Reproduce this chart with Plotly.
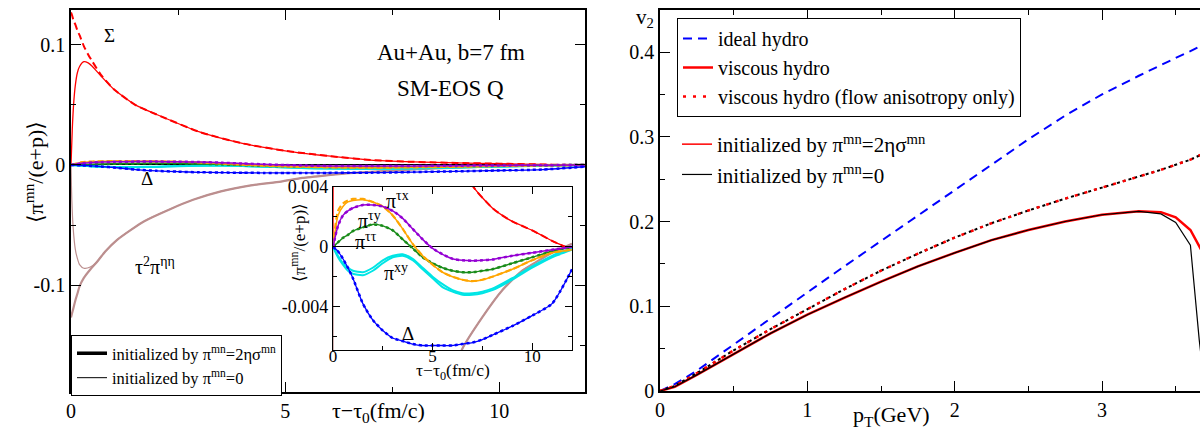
import plotly.graph_objects as go

# ---------------- Left panel data (tau - tau0 in fm/c) ----------------
tau_sig = [0, 0.03, 0.06, 0.1, 0.15, 0.2, 0.3, 0.4, 0.5, 0.7, 1.0, 1.5, 2.0, 3.0, 4.0, 5.0,
           6.0, 7.0, 8.0, 8.5, 9.0, 10.0, 11.0, 11.5, 12.0]
sigma_init0 = [0, 0.03, 0.05, 0.066, 0.077, 0.082, 0.086, 0.085, 0.082, 0.074, 0.063, 0.05, 0.042,
               0.0275, 0.018, 0.0118, 0.0075, 0.0041, 0.0026, 0.0021, 0.0017, 0.0011, 0.0004, 0.0001, -0.0002]
sigma_init2 = [0.127, 0.124, 0.12, 0.117, 0.112, 0.108, 0.099, 0.092, 0.086, 0.075, 0.063, 0.05, 0.042,
               0.0275, 0.018, 0.0118, 0.0075, 0.0041, 0.0026, 0.0021, 0.0017, 0.0011, 0.0004, 0.0001, -0.0002]

tau_b = [0, 0.02, 0.05, 0.1, 0.15, 0.2, 0.3, 0.45, 0.6, 0.8, 1.07, 1.4, 1.7, 2.3, 2.85, 3.5, 4.2,
         4.9, 5.4, 6.0, 6.5, 7.5, 8.5, 9.5, 10.35, 11.0, 12.0]
etaeta_init0 = [0, -0.03, -0.052, -0.07, -0.078, -0.083, -0.086, -0.085, -0.081, -0.072, -0.0625,
                -0.054, -0.047, -0.037, -0.029, -0.022, -0.017, -0.0138, -0.0108, -0.0085, -0.0068,
                -0.0047, -0.0029, -0.0016, -0.0009, -0.0004, 0.0002]
etaeta_init2 = [-0.127, -0.124, -0.12, -0.113, -0.107, -0.101, -0.094, -0.087, -0.081, -0.072, -0.0625,
                -0.054, -0.047, -0.037, -0.029, -0.022, -0.017, -0.0138, -0.0108, -0.0085, -0.0068,
                -0.0047, -0.0029, -0.0016, -0.0009, -0.0004, 0.0002]

tau_s = [0, 0.25, 0.5, 0.75, 1.0, 1.5, 2.0, 2.5, 3.0, 3.5, 4.0, 4.5, 5.0, 5.5, 6.0, 6.5, 7.0,
         7.5, 8.0, 9.0, 10.0, 11.0, 12.0]
pi_tx = [0, 0.0014, 0.0021, 0.0024, 0.0026, 0.0028, 0.0028, 0.0027, 0.0024, 0.0019, 0.0012, 0.0005,
         -0.0001, -0.0005, -0.0008, -0.0009, -0.00093, -0.0009, -0.00085, -0.0006, -0.0004, -0.0002, 0.0]
pi_ty = [0, 0.0021, 0.0027, 0.003, 0.0031, 0.00315, 0.003, 0.0027, 0.0021, 0.0012, 0.0002, -0.0006,
         -0.0012, -0.0017, -0.002, -0.0022, -0.0023, -0.0022, -0.002, -0.0015, -0.0009, -0.0004, -0.0002]
pi_ty_init2 = [0, 0.0024, 0.0029, 0.0031, 0.0032, 0.0032, 0.003, 0.0027, 0.0021, 0.0012, 0.0002, -0.0006,
               -0.0012, -0.0017, -0.002, -0.0022, -0.0023, -0.0022, -0.002, -0.0015, -0.0009, -0.0004, -0.0002]
pi_tt = [0, 0.0003, 0.0006, 0.0008, 0.00105, 0.0013, 0.0015, 0.0014, 0.0011, 0.0005, -0.0001, -0.0007,
         -0.0011, -0.0014, -0.0016, -0.0017, -0.0017, -0.0016, -0.0015, -0.0011, -0.0007, -0.0003, 0.0]
pi_xy = [0, -0.0006, -0.0011, -0.0014, -0.0016, -0.0017, -0.0014, -0.0009, -0.0006, -0.0005, -0.0008,
         -0.0014, -0.002, -0.0025, -0.0029, -0.0031, -0.0031, -0.003, -0.0028, -0.0021, -0.0013, -0.0006, -0.0001]
pi_xy_init2 = [0, -0.0007, -0.0012, -0.0016, -0.0018, -0.0019, -0.0016, -0.0011, -0.0007, -0.0006, -0.0009,
               -0.0015, -0.0021, -0.0027, -0.003, -0.0032, -0.0032, -0.0031, -0.0029, -0.0022, -0.0014, -0.0007, -0.0002]
delta = [0, -0.0003, -0.0008, -0.0014, -0.0021, -0.0038, -0.0049, -0.0056, -0.0061, -0.0063, -0.0065,
         -0.0066, -0.0066, -0.0066, -0.0066, -0.0065, -0.0064, -0.0062, -0.0059, -0.0053, -0.0046, -0.0038, -0.0015]

# ---------------- Right panel data (pT in GeV) ----------------
pt = [0, 0.1, 0.25, 0.5, 0.75, 1.0, 1.25, 1.5, 1.75, 2.0, 2.25, 2.5, 2.75, 3.0, 3.25, 3.4, 3.5, 3.6, 3.7]
v2_ideal = [0, 0.008, 0.024, 0.055, 0.086, 0.117, 0.147, 0.177, 0.207, 0.237, 0.266, 0.297, 0.325,
            0.35, 0.372, 0.385, 0.393, 0.401, 0.41]
v2_aniso = [0, 0.006, 0.021, 0.048, 0.073, 0.097, 0.12, 0.142, 0.162, 0.181, 0.198, 0.213, 0.227,
            0.24, 0.253, 0.261, 0.267, 0.273, 0.281]
v2_visc = [0, 0.005, 0.019, 0.044, 0.068, 0.09, 0.11, 0.129, 0.147, 0.163, 0.178, 0.19, 0.2,
           0.208, 0.212, 0.211, 0.205, 0.19, 0.158]
pt_b = [0, 0.1, 0.25, 0.5, 0.75, 1.0, 1.25, 1.5, 1.75, 2.0, 2.25, 2.5, 2.75, 3.0, 3.25, 3.4, 3.5, 3.6, 3.66, 3.7]
v2_visc0 = [0, 0.005, 0.019, 0.044, 0.068, 0.09, 0.11, 0.129, 0.147, 0.163, 0.178, 0.19, 0.2,
            0.208, 0.212, 0.209, 0.199, 0.172, 0.06, 0.0]

RED, BLUE, BROWN = "#ff0000", "#0000ff", "#bc8f8f"
VIOLET, ORANGE, GREEN, CYAN = "#9400d3", "#ffa500", "#1a8c1a", "#00e5e5"
FONT = "Liberation Serif, DejaVu Serif, serif"

fig = go.Figure()


def both(x, y, color, width, dash="solid"):
    for xa, ya in (("x", "y"), ("x2", "y2")):
        fig.add_trace(go.Scatter(x=x, y=y, mode="lines", xaxis=xa, yaxis=ya, showlegend=False,
                                 line=dict(color=color, width=width, dash=dash, shape="spline",
                                           smoothing=0.6), hoverinfo="skip"))


both(tau_b, etaeta_init2, BROWN, 2.2)
both(tau_b, etaeta_init0, BROWN, 1.2)
both(tau_sig, sigma_init0, RED, 1.3)
both(tau_sig, sigma_init2, RED, 2, "7px,4px")
both(tau_s, pi_xy_init2, CYAN, 2)
both(tau_s, pi_xy, CYAN, 2)
both(tau_s, pi_tt, GREEN, 1.5)
both(tau_s, pi_tt, GREEN, 2.5, "dot")
both(tau_s, pi_ty, ORANGE, 1.5)
both(tau_s, pi_ty_init2, ORANGE, 2.2, "6px,3px")
both(tau_s, pi_tx, VIOLET, 1.5)
both(tau_s, pi_tx, VIOLET, 2.5, "dot")
both(tau_s, delta, BLUE, 1.3)
both(tau_s, delta, BLUE, 2.5, "dot")

# left legend (line styles)
fig.add_trace(go.Scatter(x=[None], y=[None], mode="lines", line=dict(color="black", width=3.5),
                         name="initialized by π<sup>mn</sup>=2ησ<sup>mn</sup>", legend="legend3"))
fig.add_trace(go.Scatter(x=[None], y=[None], mode="lines", line=dict(color="black", width=1),
                         name="initialized by π<sup>mn</sup>=0", legend="legend3"))

# right panel
fig.add_trace(go.Scatter(x=pt, y=v2_ideal, mode="lines", xaxis="x3", yaxis="y3", name="ideal hydro",
                         line=dict(color=BLUE, width=2, dash="9px,6px"), legend="legend"))
fig.add_trace(go.Scatter(x=pt, y=v2_visc, mode="lines", xaxis="x3", yaxis="y3", name="viscous hydro",
                         line=dict(color=RED, width=2.5), legend="legend"))
fig.add_trace(go.Scatter(x=pt, y=v2_aniso, mode="lines", xaxis="x3", yaxis="y3", showlegend=False,
                         line=dict(color="black", width=2, dash="dot")))
fig.add_trace(go.Scatter(x=pt, y=v2_aniso, mode="lines", xaxis="x3", yaxis="y3",
                         name="viscous hydro (flow anisotropy only)",
                         line=dict(color=RED, width=2.5, dash="3px,7px"), legend="legend"))
fig.add_trace(go.Scatter(x=[None], y=[None], mode="lines", xaxis="x3", yaxis="y3",
                         name="initialized by π<sup>mn</sup>=2ησ<sup>mn</sup>",
                         line=dict(color=RED, width=1.5), legend="legend2"))
fig.add_trace(go.Scatter(x=pt_b, y=v2_visc0, mode="lines", xaxis="x3", yaxis="y3",
                         name="initialized by π<sup>mn</sup>=0",
                         line=dict(color="black", width=1.2), legend="legend2"))


def axstyle(**kw):
    d = dict(showline=True, linecolor="black", linewidth=1.5, mirror="allticks", ticks="inside",
             ticklen=10, tickwidth=1.2, tickcolor="black", showgrid=False, zeroline=False,
             automargin=False, tickfont=dict(size=20, family=FONT, color="black"))
    d.update(kw)
    return d


def minor(vals, ln=5):
    return dict(tickvals=vals, ticks="inside", ticklen=ln, tickwidth=1.2, tickcolor="black", showgrid=False)


W, H = 1200, 446


def px(x):
    return x / W


def py(y):
    return 1 - y / H


INSET_FONT = dict(size=18, family=FONT, color="black")

fig.update_layout(
    width=W, height=H, margin=dict(l=0, r=0, t=0, b=0, autoexpand=False),
    paper_bgcolor="white", plot_bgcolor="white",
    font=dict(family=FONT, size=20, color="black"),
    xaxis=axstyle(domain=[px(71), px(585)], range=[0, 12], anchor="y",
                  tickvals=[0, 5, 10], minor=minor([2.5, 7.5])),
    yaxis=axstyle(domain=[py(392), py(10)], range=[-0.189, 0.129], anchor="x",
                  tickvals=[-0.1, 0, 0.1], ticktext=["-0.1", "0", "0.1"],
                  minor=minor([-0.15, -0.05, 0.05]),
                  zeroline=True, zerolinecolor="black", zerolinewidth=1),
    xaxis2=axstyle(domain=[px(333), px(572)], range=[0, 12], anchor="y2",
                   tickvals=[0, 5, 10], ticklen=7, minor=minor([2.5, 7.5], 4),
                   tickfont=dict(size=17, family=FONT, color="black"), linewidth=1.2,
                   ticklabelstandoff=-10),
    yaxis2=axstyle(domain=[py(350), py(187)], range=[-0.0069, 0.004], anchor="x2",
                   tickvals=[-0.004, 0, 0.004], ticktext=["-0.004", "0", "0.004"], ticklen=7,
                   minor=minor([-0.006, -0.002, 0.002], 4),
                   tickfont=INSET_FONT, linewidth=1.2,
                   zeroline=True, zerolinecolor="black", zerolinewidth=1.2),
    xaxis3=axstyle(domain=[px(660), 1.0], range=[0, 3.665], anchor="y3",
                   tickvals=[0, 1, 2, 3], minor=minor([0.5, 1.5, 2.5, 3.5])),
    yaxis3=axstyle(domain=[py(391), py(10)], range=[0, 0.4496], anchor="x3", mirror=False,
                   tickvals=[0, 0.1, 0.2, 0.3, 0.4], ticktext=["0", "0.1", "0.2", "0.3", "0.4"],
                   minor=minor([0.05, 0.15, 0.25, 0.35])),
    legend=dict(x=px(677), y=py(18), xanchor="left", yanchor="top", bgcolor="white",
                bordercolor="black", borderwidth=1, font=dict(size=20, family=FONT),
                tracegroupgap=0, itemwidth=30),
    legend2=dict(x=px(677), y=py(124), xanchor="left", yanchor="top", bgcolor="rgba(0,0,0,0)",
                 borderwidth=0, font=dict(size=21, family=FONT), tracegroupgap=0, itemwidth=30),
    legend3=dict(x=px(71), y=py(335), xanchor="left", yanchor="top", bgcolor="white",
                 bordercolor="black", borderwidth=1, font=dict(size=16.5, family=FONT),
                 tracegroupgap=0, itemwidth=30),
)

ann = []


def A(text, x, y, size=20, xref="paper", yref="paper", **kw):
    d = dict(text=text, x=x, y=y, xref=xref, yref=yref, showarrow=False,
             font=dict(size=size, family=FONT, color="black"))
    d.update(kw)
    ann.append(d)


# axis titles
A("⟨π<sup>mn</sup>/(e+p)⟩", px(18), py(172), 22, textangle=-90)
A("τ−τ<sub>0</sub>(fm/c)", px(330), py(428), 22)
A("p<sub>T</sub>(GeV)", px(932), py(432), 22)
A("v<sub>2</sub>", px(645), py(3), 21)
A("⟨π<sup>mn</sup>/(e+p)⟩", px(285), py(243), 17, textangle=-90)
A("τ−τ<sub>0</sub>(fm/c)", px(453), py(385), 17.5)
# left panel labels
A("Σ", 0.91, 0.1075, 19, "x", "y")
A("Δ", 1.78, -0.011, 19, "x", "y")
A("τ<sup>2</sup>π<sup>ηη</sup>", 1.96, -0.084, 20, "x", "y")
A("Au+Au, b=7 fm", 8.86, 0.094, 23, "x", "y")
A("SM-EOS Q", 8.86, 0.064, 23, "x", "y")
# inset labels
A("π<sup>τx</sup>", 2.55, 0.0031, 20, "x2", "y2", xanchor="left")
A("π<sup>τy</sup>", 1.15, 0.0018, 20, "x2", "y2", xanchor="left")
A("π<sup>ττ</sup>", 1.0, 0.0004, 20, "x2", "y2", xanchor="left")
A("π<sup>xy</sup>", 2.45, -0.0017, 20, "x2", "y2", xanchor="left")
A("Δ", 3.77, -0.0058, 19, "x2", "y2")

fig.update_layout(annotations=ann)
fig.write_html("out.html")
